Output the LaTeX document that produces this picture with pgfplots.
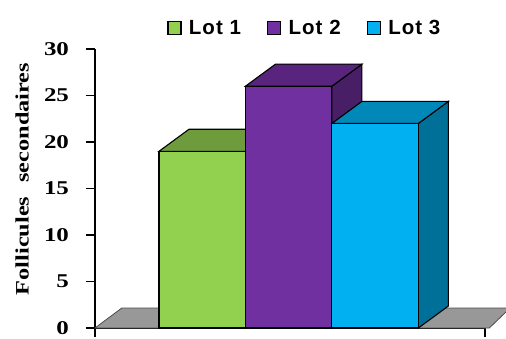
\documentclass[border=0pt]{standalone}
\usepackage{pgfplots}
\pgfplotsset{compat=1.18}
\usepackage{fontspec}
\setmainfont{Liberation Serif}
\newfontfamily\widserif[FakeStretch=1.28]{Liberation Serif}
\newfontfamily\legendfont[LetterSpace=5]{Liberation Sans}

% face colours: front, top, side
\definecolor{lotAfront}{RGB}{146,208,80}
\definecolor{lotAtop}{RGB}{110,156,60}
\definecolor{lotAside}{RGB}{90,130,48}
\definecolor{lotBfront}{RGB}{112,48,160}
\definecolor{lotBtop}{RGB}{88,36,125}
\definecolor{lotBside}{RGB}{72,30,102}
\definecolor{lotCfront}{RGB}{0,176,240}
\definecolor{lotCtop}{RGB}{0,136,185}
\definecolor{lotCside}{RGB}{0,112,152}
\definecolor{floorgray}{RGB}{152,152,152}

% square legend swatch with a gap before the text
\newcommand{\swatch}[1]{\draw[fill=#1, draw=black, line width=1.3pt] (0pt,-6.5pt) rectangle (13pt,6.5pt); \path[draw=none, fill=none] (13pt,0pt) rectangle (19pt,0.1pt);}

\begin{document}
\begin{tikzpicture}
\begin{axis}[
  scale only axis,
  width=390pt, height=279pt,
  xmin=0, xmax=4.51,
  ymin=0, ymax=30,
  clip=false,
  axis x line*=bottom, axis y line*=left,
  axis line style={-, line width=1.3pt, black},
  tick align=outside,
  major tick length=9pt,
  every tick/.style={black, line width=1.3pt},
  xtick={0,4.51}, xticklabels={},
  ytick={0,5,...,30},
  /pgf/number format/assume math mode=true,
  yticklabel style={font=\widserif\bfseries\fontsize{19.5}{21}\selectfont, anchor=east, xshift=-13.5pt},
  ylabel={Follicules\hspace{8pt} secondaires},
  ylabel style={font=\widserif\bfseries\fontsize{19}{20}\selectfont,
    at={(axis description cs:-0.187,0.534)}, anchor=center},
  legend columns=3,
  legend style={draw=none, fill=none,
    at={(axis description cs:0.538,1.075)}, anchor=center,
    font=\legendfont\bfseries\fontsize{20.5}{22}\selectfont,
    /tikz/every even column/.append style={column sep=24pt},
    /tikz/every odd column/.append style={column sep=0pt}},
]
% floor
\addplot[fill=floorgray, draw=black!70, line width=0.8pt, forget plot]
  coordinates {(0,0) (4.56,0) (4.80,2.15) (0.31,2.15)} -- cycle;

% Lot 1 (19)
\addplot[fill=lotAside, draw=black, line width=1.1pt, forget plot]
  coordinates {(1.74,0) (2.087,2.37) (2.087,21.37) (1.74,19)} -- cycle;
\addplot[fill=lotAtop, draw=black, line width=1.1pt, forget plot]
  coordinates {(0.74,19) (1.74,19) (2.087,21.37) (1.087,21.37)} -- cycle;
\addplot[ybar, bar width=1, bar shift=0pt, fill=lotAfront, draw=black, line width=1.1pt,
  legend image code/.code={\swatch{lotAfront}}]
  coordinates {(1.24,19)};
\addlegendentry{Lot 1}

% Lot 2 (26)
\addplot[fill=lotBside, draw=black, line width=1.1pt, forget plot]
  coordinates {(2.74,0) (3.087,2.37) (3.087,28.37) (2.74,26)} -- cycle;
\addplot[fill=lotBtop, draw=black, line width=1.1pt, forget plot]
  coordinates {(1.74,26) (2.74,26) (3.087,28.37) (2.087,28.37)} -- cycle;
\addplot[ybar, bar width=1, bar shift=0pt, fill=lotBfront, draw=black, line width=1.1pt,
  legend image code/.code={\swatch{lotBfront}}]
  coordinates {(2.24,26)};
\addlegendentry{Lot 2}

% Lot 3 (22)
\addplot[fill=lotCside, draw=black, line width=1.1pt, forget plot]
  coordinates {(3.74,0) (4.087,2.37) (4.087,24.37) (3.74,22)} -- cycle;
\addplot[fill=lotCtop, draw=black, line width=1.1pt, forget plot]
  coordinates {(2.74,22) (3.74,22) (4.087,24.37) (3.087,24.37)} -- cycle;
\addplot[ybar, bar width=1, bar shift=0pt, fill=lotCfront, draw=black, line width=1.1pt,
  legend image code/.code={\swatch{lotCfront}}]
  coordinates {(3.24,22)};
\addlegendentry{Lot 3}
\end{axis}
\pgfresetboundingbox
\path (-95pt,-10pt) rectangle (411pt,328pt);
\end{tikzpicture}
\end{document}
